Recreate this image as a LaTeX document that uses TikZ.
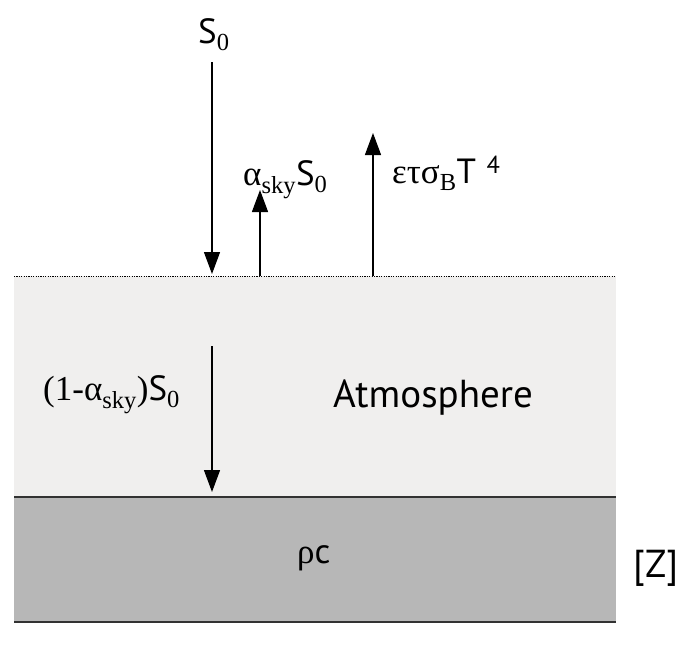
\documentclass[tikz,border=0pt]{standalone}
\usepackage{fontspec}
\setmainfont{Liberation Serif}
\setsansfont{PT Sans}
\usetikzlibrary{arrows.meta}
\definecolor{atmogray}{RGB}{240,239,238}
\definecolor{soilgray}{RGB}{183,183,183}
\definecolor{edgegray}{RGB}{50,50,50}
\tikzset{
  flux/.style={-{Triangle[length=22pt,width=16pt]}, line width=1.3pt, draw=black},
  lbl/.style={inner sep=0pt, font=\fontsize{35}{40}\selectfont},
  biglbl/.style={inner sep=0pt, font=\fontsize{39}{44}\selectfont\sffamily},
  layerline/.style={line width=1.6pt, draw=edgegray},
}
\newcommand{\sS}{\textsf{S}}

\begin{document}
\begin{tikzpicture}[x=1pt, y=-1pt]
    \useasboundingbox (0,0) rectangle (691,646);
    % layers
    \fill[atmogray] (14,276) rectangle (616,497);
    \fill[soilgray] (14,497) rectangle (616,622);
    \draw[dash pattern=on 1.2pt off 1.2pt, line width=1pt] (14,276) coordinate (topl) -- (616,276) coordinate (topr);
    \draw[layerline] (14,497) coordinate (midl) -- (616,497) coordinate (midr);
    \draw[layerline] (14,622) coordinate (botl) -- (616,622) coordinate (botr);
    % labels
    \node[lbl, anchor=base west] (sun) at (198,43) {\sS\textsubscript{0}};
    \node[lbl, anchor=base west] (refl) at (243,185) {α\textsubscript{sky}\sS\textsubscript{0}};
    \node[lbl, anchor=base west] (emit) at (392,183) {ετσ\textsubscript{B}\textsf{T}\hspace{0.3em}\textsuperscript{\textsf{4}}};
    \node[lbl, anchor=base west] (trans) at (43,400) {(1-α\textsubscript{sky})\sS\textsubscript{0}};
    \node[biglbl, anchor=base west] (atmo) at (333,407) {Atmosphere};
    \node[lbl, anchor=base west] (rhoc) at (297,563) {ρ\textsf{c}};
    \node[biglbl, anchor=base west] (zlab) at (633,577) {[Z]};
    % fluxes
    \coordinate (s0a) at (212,62);
    \coordinate (s0b) at (212,274);
    \coordinate (ra) at (260,276);
    \coordinate (rb) at (260,190);
    \coordinate (ea) at (373,276);
    \coordinate (eb) at (373,133);
    \coordinate (ta) at (212,346);
    \coordinate (tb) at (212,492);
    \draw[flux] (s0a) -- (s0b);
    \draw[flux] (ra) -- (rb);
    \draw[flux] (ea) -- (eb);
    \draw[flux] (ta) -- (tb);
\end{tikzpicture}
\end{document}
